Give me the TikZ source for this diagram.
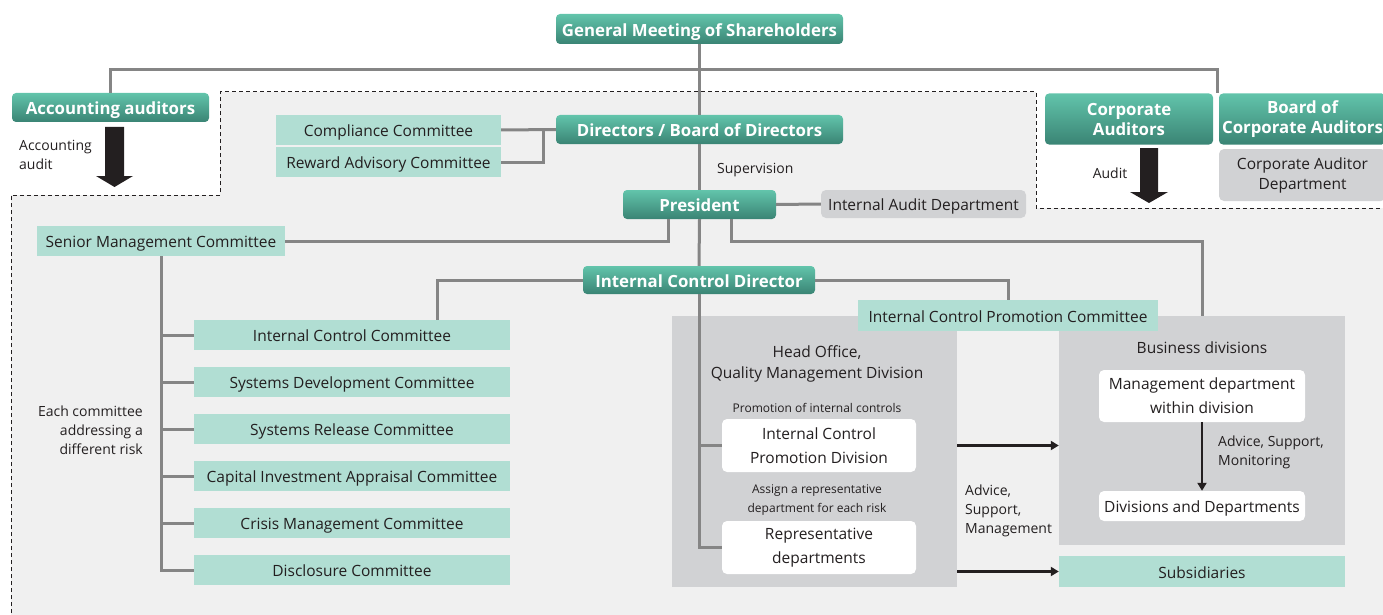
\documentclass[tikz,border=0pt]{standalone}
\usepackage{fontspec}
\setmainfont{Open Sans}
\usetikzlibrary{arrows.meta,calc}

\definecolor{ink}{HTML}{231F20}
\definecolor{grnTop}{HTML}{62C4AB}
\definecolor{grnBot}{HTML}{3A8474}
\definecolor{tealfill}{HTML}{B1DED3}
\definecolor{panelgrey}{HTML}{D1D2D4}
\definecolor{bggrey}{HTML}{F0F0F0}
\definecolor{lineg}{HTML}{858585}

\tikzset{
  greenbox/.style={rounded corners=4pt, top color=grnTop, bottom color=grnBot,
    text=white, font=\bfseries\fontsize{16.8}{20}\selectfont, inner sep=0pt, align=center},
  tealbox/.style={fill=tealfill, inner sep=0pt, text=ink, align=center,
    font=\fontsize{15.5}{24}\selectfont},
  greybox/.style={fill=panelgrey, rounded corners=5pt, inner sep=0pt, text=ink, align=center,
    font=\fontsize{15.5}{20}\selectfont},
  whitebox/.style={fill=white, rounded corners=5pt, inner sep=0pt, text=ink, align=center,
    font=\fontsize{15.5}{24}\selectfont},
  panel/.style={fill=panelgrey, inner sep=0pt},
  lbl/.style={text=ink, inner sep=0pt, font=\fontsize{15.5}{21}\selectfont, align=center},
  note/.style={text=ink, inner sep=0pt, font=\fontsize{14}{19}\selectfont},
  small/.style={text=ink, inner sep=0pt, font=\fontsize{12}{19}\selectfont, align=center},
  % single-line labels: balance the text box so the words sit centred
  oneR/.style={text height=16.8pt, text depth=3.7pt},
  oneB/.style={text height=18.2pt, text depth=4pt},
  oneN/.style={text height=15.2pt, text depth=3.4pt},
  oneS/.style={text height=13pt, text depth=2.9pt},
  conn/.style={draw=lineg, line width=3pt},
  flow/.style={draw=ink, line width=2.5pt, -{Triangle[length=8pt,width=9pt]}},
}

\begin{document}
\begin{tikzpicture}[x=1pt,y=-1pt]
\useasboundingbox (0,0) rectangle (1383,615);

% shaded area of the company's internal organisation
\fill[bggrey] (11,615) -- (11,195) -- (220,195) -- (220,92) -- (1036,92) -- (1036,208)
  -- (1383,208) -- (1383,615) -- cycle;
\draw[ink, line width=1pt, dash pattern=on 4pt off 3pt]
  (11,620) -- (11,195) -- (220,195) -- (220,92) -- (1036,92) -- (1036,208) -- (1390,208);

% grey panels
\node[panel, minimum width=285pt, minimum height=271pt] (hobox) at (814.5,451.5) {};
\node[panel, minimum width=286pt, minimum height=229pt] (bdbox) at (1202,430.5) {};

% top level
\node[greenbox, oneB, minimum width=287pt, minimum height=30pt] (gm) at (699.5,29) {General Meeting of Shareholders};
\node[greenbox, oneB, minimum width=197pt, minimum height=29pt] (acc) at (110.5,107.5) {Accounting auditors};
\node[greenbox, minimum width=168pt, minimum height=51pt] (ca) at (1129,119) {Corporate\\Auditors};
\node[greenbox, minimum width=167pt, minimum height=51pt] (bca) at (1302.5,119) {Board of\\Corporate Auditors};
\node[greybox, minimum width=167pt, minimum height=52pt] (cad) at (1302.5,175) {Corporate Auditor\\Department};

\node[tealbox, oneR, minimum width=225pt, minimum height=30pt] (comp) at (388.5,130) {Compliance Committee};
\node[tealbox, oneR, minimum width=225pt, minimum height=30pt] (rew) at (388.5,162) {Reward Advisory Committee};
\node[greenbox, oneB, minimum width=287pt, minimum height=29pt] (dir) at (699.5,129.5) {Directors / Board of Directors};
\node[note, oneN, anchor=west] (sup) at (717,168) {Supervision};
\node[greenbox, oneB, minimum width=153pt, minimum height=29pt] (pres) at (699.5,204.5) {President};
\node[greybox, oneR, minimum width=205pt, minimum height=28pt] (iad) at (923.5,204) {Internal Audit Department};

\node[note, anchor=west, align=left] (acctxt) at (19,155) {Accounting\\audit};
\node[note, oneN] (audtxt) at (1110,173) {Audit};

% executive side
\node[tealbox, oneR, minimum width=248pt, minimum height=30pt] (smc) at (161,241) {Senior Management Committee};
\node[greenbox, oneB, minimum width=232pt, minimum height=28pt] (icd) at (699,280) {Internal Control Director};
\node[tealbox, oneR, minimum width=300pt, minimum height=31pt] (icpc) at (1008,315.5) {Internal Control Promotion Committee};

\node[tealbox, oneR, minimum width=316pt, minimum height=30pt] (c1) at (352,335) {Internal Control Committee};
\node[tealbox, oneR, minimum width=316pt, minimum height=30pt] (c2) at (352,382) {Systems Development Committee};
\node[tealbox, oneR, minimum width=316pt, minimum height=30pt] (c3) at (352,429) {Systems Release Committee};
\node[tealbox, oneR, minimum width=316pt, minimum height=30pt] (c4) at (352,476) {Capital Investment Appraisal Committee};
\node[tealbox, oneR, minimum width=316pt, minimum height=30pt] (c5) at (352,523) {Crisis Management Committee};
\node[tealbox, oneR, minimum width=316pt, minimum height=30pt] (c6) at (352,570) {Disclosure Committee};
\node[note, anchor=east, align=right] (risk) at (143,430.5) {Each committee\\addressing a\\different risk};

% head office panel contents
\node[lbl] (hotitle) at (817,364) {Head Office,\\Quality Management Division};
\node[small, oneS] (promo) at (817,407) {Promotion of internal controls};
\node[whitebox, minimum width=194pt, minimum height=53pt] (icpd) at (819,445.5) {Internal Control\\Promotion Division};
\node[small] (assign) at (817,500.5) {Assign a representative\\department for each risk};
\node[whitebox, minimum width=194pt, minimum height=53pt] (rep) at (819,547.5) {Representative\\departments};

% business divisions panel contents
\node[lbl, oneR] (bdtitle) at (1202,347) {Business divisions};
\node[whitebox, minimum width=206pt, minimum height=52pt] (mgmt) at (1202,396) {Management department\\within division};
\node[whitebox, oneR, minimum width=206pt, minimum height=30pt] (divs) at (1202,506) {Divisions and Departments};
\node[note, anchor=west, align=left] (ams) at (1218,452) {Advice, Support,\\Monitoring};
\node[tealbox, oneR, minimum width=286pt, minimum height=31pt] (subs) at (1202,571.5) {Subsidiaries};
\node[note, anchor=west, align=left] (asm) at (965,510.5) {Advice,\\Support,\\Management};

% reporting lines
\coordinate (bus) at (699.5,70);
\draw[conn] (acc.north) |- (bus) -| ([xshift=-1.5pt]bca.north west);
\draw[conn] (gm.south) -- (dir.north);
\draw[conn] (dir.south) -- (pres.north);
\draw[conn] (pres.south) -- (icd.north);
\draw[conn] (icd.south) -- (icd.south |- rep.west) -- (rep.west);
\draw[conn] (icd.south |- icpd.west) -- (icpd.west);
\draw[conn] (comp.east) -- (dir.west);
\coordinate (cj) at (543,130);
\draw[conn] (rew.east) -| (cj);
\draw[conn] (pres.east) -- (iad.west);
\draw[conn] (smc.east) -| ([xshift=-31.5pt]pres.south);
\draw[conn] ([xshift=31.5pt]pres.south) -- ++(0,22) -| (bdbox.north);
\draw[conn] (icd.west) -| ([xshift=85pt]c1.north);
\draw[conn] (icd.east) -| (icpc.north);
\draw[conn] (smc.south) |- (c6.west);
\foreach \c in {c1,c2,c3,c4,c5}
  \draw[conn] (smc.south |- \c.west) -- (\c.west);

% advice and support flows
\draw[flow] (icpd.east -| hobox.east) -- (icpd.east -| bdbox.west);
\draw[flow] (subs.west -| hobox.east) -- (subs.west);
\draw[flow] (mgmt.south) -- (divs.north);

% audit arrows
\coordinate (aa) at (114.5,127);
\fill[ink] (aa) ++(-9.5,0) -- ++(19,0) -- ++(0,49) -- ++(9,0) -- ++(-18.5,11) -- ++(-18.5,-11) -- ++(9,0) -- cycle;
\coordinate (ab) at (1149,148);
\fill[ink] (ab) ++(-9,0) -- ++(18,0) -- ++(0,44) -- ++(10,0) -- ++(-19,11) -- ++(-19,-11) -- ++(10,0) -- cycle;
\end{tikzpicture}
\end{document}
